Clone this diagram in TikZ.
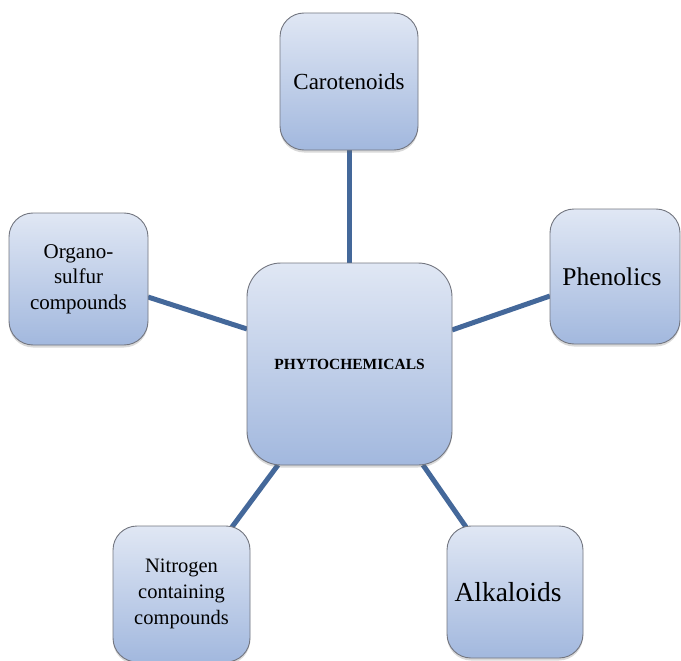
\documentclass[tikz,border=0pt]{standalone}
\usepackage{fontspec}
\setmainfont{Liberation Serif}
\usetikzlibrary{shadows,calc}
\definecolor{boxtop}{RGB}{224,231,244}
\definecolor{boxbot}{RGB}{162,184,222}
\definecolor{boxline}{RGB}{115,118,128}
\definecolor{linkcol}{RGB}{68,104,154}
\tikzset{
  catbox/.style={draw=boxline, line width=0.9pt, rounded corners=24pt,
    top color=boxtop, bottom color=boxbot, inner sep=0pt, align=center,
    drop shadow={shadow xshift=0pt, shadow yshift=-2.5pt, opacity=0.25, fill=black!60}},
  link/.style={draw=linkcol, line width=5pt}
}
\begin{document}
\begin{tikzpicture}[x=1pt, y=-1pt]
\useasboundingbox (0,0) rectangle (681,661);
% connectors first (behind boxes)
\coordinate (o1) at (148,297);
\coordinate (o2) at (247,329);
\coordinate (p1) at (452,330);
\coordinate (p2) at (550,296);
\coordinate (n1) at (278,465);
\coordinate (n2) at (232,527);
\coordinate (a1) at (423,465);
\coordinate (a2) at (466,527);
\coordinate (c1) at (349,149);
\coordinate (c2) at (349,264);
\draw[link] (c1) -- (c2);
\draw[link] (o1) -- (o2);
\draw[link] (p1) -- (p2);
\draw[link] (n1) -- (n2);
\draw[link] (a1) -- (a2);
% boxes
\node[catbox, minimum width=138pt, minimum height=137pt,
  font=\fontsize{23}{27}\selectfont] (car) at (349,81.5) {Carotenoids};
\node[catbox, minimum width=130pt, minimum height=135pt,
  font=\fontsize{25.5}{30}\selectfont] (phen) at (615,276.5) {\hspace*{-6pt}Phenolics};
\node[catbox, minimum width=139pt, minimum height=132pt,
  font=\fontsize{21}{25.5}\selectfont] (org) at (78.5,279) {Organo-\\sulfur\\compounds};
\node[catbox, minimum width=137pt, minimum height=136pt,
  font=\fontsize{20.5}{26}\selectfont] (nit) at (181.5,594) {Nitrogen\\containing\\compounds};
\node[catbox, minimum width=136pt, minimum height=132pt,
  font=\fontsize{27.5}{32}\selectfont] (alk) at (515,592) {\hspace*{-14pt}Alkaloids};
\node[catbox, rounded corners=34pt, minimum width=205pt, minimum height=202pt,
  font=\fontsize{15.5}{18}\selectfont\bfseries] (cen) at (349.5,364) {PHYTOCHEMICALS};
\end{tikzpicture}
\end{document}
